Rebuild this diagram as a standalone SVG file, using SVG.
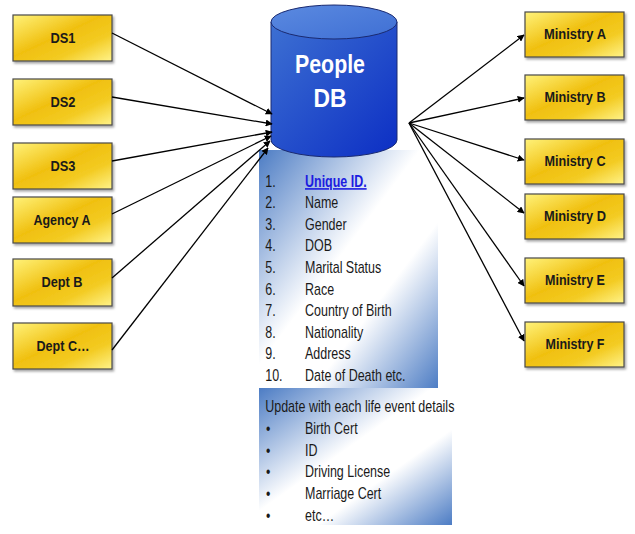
<svg xmlns="http://www.w3.org/2000/svg" width="635" height="534" viewBox="0 0 635 534">
  <defs>
    <linearGradient id="gold" x1="0" y1="0" x2="1" y2="1">
      <stop offset="0" stop-color="#fff27a"/>
      <stop offset="0.45" stop-color="#f0c010"/>
      <stop offset="0.7" stop-color="#f3cb22"/>
      <stop offset="1" stop-color="#fff38a"/>
    </linearGradient>
    <linearGradient id="dbBody" x1="0" y1="0" x2="1" y2="1">
      <stop offset="0" stop-color="#3d70d2"/>
      <stop offset="1" stop-color="#0c2ec4"/>
    </linearGradient>
    <linearGradient id="dbTop" x1="0" y1="0" x2="1" y2="1">
      <stop offset="0" stop-color="#5b8ae0"/>
      <stop offset="1" stop-color="#3f6fd4"/>
    </linearGradient>
    <linearGradient id="panel" x1="0" y1="0" x2="1" y2="1">
      <stop offset="0" stop-color="#4c7cc4"/>
      <stop offset="0.45" stop-color="#ffffff"/>
      <stop offset="0.65" stop-color="#ffffff"/>
      <stop offset="1" stop-color="#4c7cc4"/>
    </linearGradient>
    <marker id="arrow" viewBox="0 0 10 10" refX="9" refY="5" markerWidth="7" markerHeight="7" orient="auto" markerUnits="userSpaceOnUse">
      <path d="M0,0 L10,5 L0,10 z" fill="#000"/>
    </marker>
    <filter id="shadow" x="-10%" y="-10%" width="130%" height="140%">
      <feDropShadow dx="1.5" dy="2" stdDeviation="1" flood-color="#000" flood-opacity="0.35"/>
    </filter>
  </defs>
  <style>
    .box { fill: url(#gold); stroke: #4a4a4a; stroke-width: 1.2; filter: url(#shadow); }
    .lbl { font-family: "Liberation Sans", Arial, sans-serif; font-weight: bold; font-size: 15px; fill: #1a1a1a; text-anchor: middle; }
    .conn { stroke: #000; stroke-width: 1.3; fill: none; marker-end: url(#arrow); }
    .item { font-family: "Liberation Sans", Arial, sans-serif; font-size: 16px; fill: #1a1a1a; }
  </style>

  <rect width="635" height="534" fill="#ffffff"/>

  <!-- attribute list panels (text condensed horizontally) -->
  <g id="attributes">
    <rect x="259" y="150" width="179" height="239" fill="url(#panel)"/>
    <g class="item" transform="translate(259,0) scale(0.78,1) translate(-259,0)">
      <text x="267" y="187">1.</text>
      <text x="318" y="187" font-weight="bold" fill="#1c1ce0" text-decoration="underline">Unique ID.</text>
      <text x="267" y="208">2.</text><text x="318" y="208">Name</text>
      <text x="267" y="230">3.</text><text x="318" y="230">Gender</text>
      <text x="267" y="251">4.</text><text x="318" y="251">DOB</text>
      <text x="267" y="273">5.</text><text x="318" y="273">Marital Status</text>
      <text x="267" y="295">6.</text><text x="318" y="295">Race</text>
      <text x="267" y="316">7.</text><text x="318" y="316">Country of Birth</text>
      <text x="267" y="338">8.</text><text x="318" y="338">Nationality</text>
      <text x="267" y="359">9.</text><text x="318" y="359">Address</text>
      <text x="267" y="381">10.</text><text x="318" y="381">Date of Death etc.</text>
    </g>
  </g>
  <g id="life-events">
    <rect x="259" y="388" width="193" height="137" fill="url(#panel)"/>
    <g class="item" transform="translate(259,0) scale(0.78,1) translate(-259,0)">
      <text x="267" y="412">Update with each life event details</text>
      <text x="268" y="434">•</text><text x="318" y="434">Birth Cert</text>
      <text x="268" y="456">•</text><text x="318" y="456">ID</text>
      <text x="268" y="477">•</text><text x="318" y="477">Driving License</text>
      <text x="268" y="499">•</text><text x="318" y="499">Marriage Cert</text>
      <text x="268" y="521">•</text><text x="318" y="521">etc…</text>
    </g>
  </g>

  <!-- central database -->
  <g id="people-db">
    <path d="M271,22 L271,140 A63,17 0 0 0 397,140 L397,22 Z" fill="url(#dbBody)" stroke="#1a2a70" stroke-width="1"/>
    <ellipse cx="334" cy="22" rx="63" ry="17" fill="url(#dbTop)" stroke="#1a2a70" stroke-width="1"/>
    <text x="330" y="73" font-family="Liberation Sans, Arial, sans-serif" font-weight="bold" font-size="25" fill="#ffffff" text-anchor="middle" textLength="70" lengthAdjust="spacingAndGlyphs">People</text>
    <text x="330" y="107" font-family="Liberation Sans, Arial, sans-serif" font-weight="bold" font-size="25" fill="#ffffff" text-anchor="middle" textLength="33" lengthAdjust="spacingAndGlyphs">DB</text>
  </g>

  <!-- sources -->
  <g id="ds1"><rect class="box" x="13" y="15" width="99" height="46"/><text class="lbl" x="63" y="43" textLength="25" lengthAdjust="spacingAndGlyphs">DS1</text></g>
  <g id="ds2"><rect class="box" x="13" y="79" width="99" height="46"/><text class="lbl" x="63" y="107" textLength="25" lengthAdjust="spacingAndGlyphs">DS2</text></g>
  <g id="ds3"><rect class="box" x="13" y="143" width="99" height="46"/><text class="lbl" x="63" y="171" textLength="25" lengthAdjust="spacingAndGlyphs">DS3</text></g>
  <g id="agency-a"><rect class="box" x="13" y="197" width="99" height="46"/><text class="lbl" x="62" y="225" textLength="57" lengthAdjust="spacingAndGlyphs">Agency A</text></g>
  <g id="dept-b"><rect class="box" x="13" y="259" width="99" height="47"/><text class="lbl" x="62" y="287" textLength="41" lengthAdjust="spacingAndGlyphs">Dept B</text></g>
  <g id="dept-c"><rect class="box" x="13" y="323" width="99" height="46"/><text class="lbl" x="63" y="351" textLength="53" lengthAdjust="spacingAndGlyphs">Dept C…</text></g>

  <!-- consumers -->
  <g id="ministry-a"><rect class="box" x="525" y="12" width="99" height="45"/><text class="lbl" x="575" y="39" textLength="62" lengthAdjust="spacingAndGlyphs">Ministry A</text></g>
  <g id="ministry-b"><rect class="box" x="525" y="75" width="99" height="45"/><text class="lbl" x="575" y="102" textLength="61" lengthAdjust="spacingAndGlyphs">Ministry B</text></g>
  <g id="ministry-c"><rect class="box" x="525" y="139" width="99" height="45"/><text class="lbl" x="575" y="166" textLength="61" lengthAdjust="spacingAndGlyphs">Ministry C</text></g>
  <g id="ministry-d"><rect class="box" x="525" y="194" width="99" height="45"/><text class="lbl" x="575" y="221" textLength="62" lengthAdjust="spacingAndGlyphs">Ministry D</text></g>
  <g id="ministry-e"><rect class="box" x="525" y="258" width="99" height="45"/><text class="lbl" x="575" y="285" textLength="60" lengthAdjust="spacingAndGlyphs">Ministry E</text></g>
  <g id="ministry-f"><rect class="box" x="525" y="322" width="99" height="45"/><text class="lbl" x="575" y="349" textLength="59" lengthAdjust="spacingAndGlyphs">Ministry F</text></g>

  <!-- connectors -->
  <g id="connectors">
    <line class="conn" x1="112" y1="33" x2="272" y2="114"/>
    <line class="conn" x1="112" y1="97" x2="272" y2="124"/>
    <line class="conn" x1="112" y1="161" x2="272" y2="132"/>
    <line class="conn" x1="112" y1="214" x2="271" y2="136"/>
    <line class="conn" x1="112" y1="278" x2="270" y2="141"/>
    <line class="conn" x1="112" y1="350" x2="268" y2="148"/>
    <line class="conn" x1="409" y1="123" x2="524" y2="35"/>
    <line class="conn" x1="409" y1="123" x2="524" y2="98"/>
    <line class="conn" x1="409" y1="123" x2="524" y2="160"/>
    <line class="conn" x1="409" y1="123" x2="524" y2="213"/>
    <line class="conn" x1="409" y1="123" x2="524" y2="286"/>
    <line class="conn" x1="409" y1="123" x2="524" y2="341"/>
  </g>
</svg>
